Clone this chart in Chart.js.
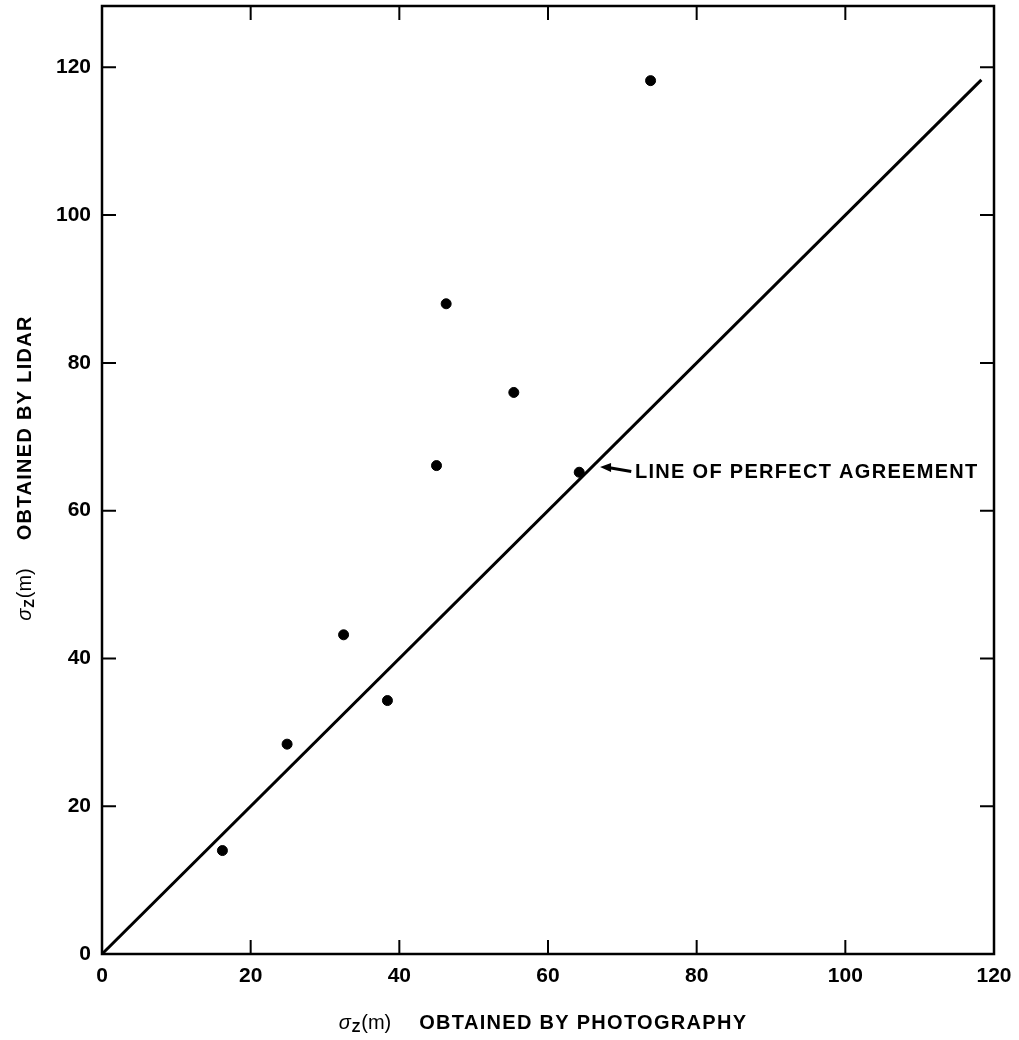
<!DOCTYPE html>
<html lang="en">
<head>
    <meta charset="UTF-8">
    <title>Sigma z: lidar vs photography</title>
    <script src="https://cdn.jsdelivr.net/npm/chart.js"></script>
    <style>
        html, body {
            margin: 0;
            padding: 0;
            background: #fff;
        }
        #wrap {
            width: 1019px;
            height: 1040px;
        }
    </style>
</head>
<body>
<div id="wrap"><canvas id="chart"></canvas></div>
<script>
    // values
    const photoSigma = [16.2, 24.9, 32.5, 38.4, 45.0, 46.3, 55.4, 64.2, 73.8];
    const lidarSigma = [14.0, 28.4, 43.2, 34.3, 66.1, 88.0, 76.0, 65.2, 118.2];
    const agreementX = [0, 118.3];
    const agreementY = [0, 118.3];
    const tickValues = [0, 20, 40, 60, 80, 100, 120];
    const xTitle = 'OBTAINED BY PHOTOGRAPHY';
    const yTitle = 'OBTAINED BY LIDAR';
    const noteText = 'LINE OF PERFECT AGREEMENT';

    const FONT = '"Liberation Sans", Arial, sans-serif';
    const SPACING = '1.3px';

    // one pass for measuring (draw=false) or drawing sigma_Z(m) + title
    function sigmaTitle(ctx, x, y, rest, draw) {
        const x0 = x;
        ctx.textBaseline = 'middle';
        ctx.textAlign = 'left';
        ctx.letterSpacing = '0px';
        ctx.font = 'italic 20px ' + FONT;
        if (draw) ctx.fillText('σ', x, y);
        x += ctx.measureText('σ').width + 1;
        ctx.font = 'bold 14px ' + FONT;
        if (draw) ctx.fillText('Z', x, y + 5);
        x += ctx.measureText('Z').width + 1;
        ctx.font = '20px ' + FONT;
        if (draw) ctx.fillText('(m)', x, y);
        x += ctx.measureText('(m)').width + 28;
        ctx.font = 'bold 20px ' + FONT;
        ctx.letterSpacing = SPACING;
        if (draw) ctx.fillText(rest, x, y);
        x += ctx.measureText(rest).width;
        ctx.letterSpacing = '0px';
        return x - x0;
    }

    const framePlugin = {
        id: 'frame',
        afterDraw(chart) {
            const ctx = chart.ctx;
            const a = chart.chartArea;
            const xs = chart.scales.x;
            const ys = chart.scales.y;
            ctx.save();
            ctx.strokeStyle = '#000';
            ctx.fillStyle = '#000';

            // box
            ctx.lineWidth = 2.5;
            ctx.strokeRect(a.left, a.top, a.right - a.left, a.bottom - a.top);

            // inward ticks on all four sides
            ctx.lineWidth = 2;
            const tl = 14;
            ctx.beginPath();
            tickValues.forEach(v => {
                const px = xs.getPixelForValue(v);
                const py = ys.getPixelForValue(v);
                if (v > 0 && v < 120) {
                    ctx.moveTo(px, a.bottom); ctx.lineTo(px, a.bottom - tl);
                    ctx.moveTo(px, a.top); ctx.lineTo(px, a.top + tl);
                }
                if (v > 0) {
                    ctx.moveTo(a.left, py); ctx.lineTo(a.left + tl, py);
                    ctx.moveTo(a.right, py); ctx.lineTo(a.right - tl, py);
                }
            });
            ctx.stroke();

            // x title
            const xw = sigmaTitle(ctx, 0, 0, xTitle, false);
            sigmaTitle(ctx, 543 - xw / 2, 1023, xTitle, true);

            // y title (rotated)
            const yw = sigmaTitle(ctx, 0, 0, yTitle, false);
            ctx.save();
            ctx.translate(25, 468);
            ctx.rotate(-Math.PI / 2);
            sigmaTitle(ctx, -yw / 2, 0, yTitle, true);
            ctx.restore();

            // annotation arrow + label
            const tipX = xs.getPixelForValue(67.0);
            const tipY = ys.getPixelForValue(65.9);
            const tailX = xs.getPixelForValue(71.2);
            const tailY = ys.getPixelForValue(65.3);
            ctx.lineWidth = 3;
            ctx.beginPath();
            ctx.moveTo(tailX, tailY);
            ctx.lineTo(tipX + 8, tipY + 0.5);
            ctx.stroke();
            ctx.beginPath();
            ctx.moveTo(tipX, tipY);
            ctx.lineTo(tipX + 11, tipY - 4);
            ctx.lineTo(tipX + 11, tipY + 5);
            ctx.closePath();
            ctx.fill();

            ctx.font = 'bold 20px ' + FONT;
            ctx.letterSpacing = SPACING;
            ctx.textAlign = 'left';
            ctx.textBaseline = 'middle';
            ctx.fillText(noteText, xs.getPixelForValue(71.7), ys.getPixelForValue(65.2));
            ctx.restore();
        }
    };

    const points = photoSigma.map((x, i) => ({ x: x, y: lidarSigma[i] }));
    const agreement = agreementX.map((x, i) => ({ x: x, y: agreementY[i] }));

    new Chart(document.getElementById('chart'), {
        type: 'scatter',
        data: {
            datasets: [{
                type: 'line',
                data: agreement,
                borderColor: '#000',
                borderWidth: 3,
                pointRadius: 0,
                fill: false
            }, {
                data: points,
                backgroundColor: '#000',
                borderColor: '#000',
                pointRadius: 5,
                pointHoverRadius: 5
            }]
        },
        options: {
            responsive: true,
            maintainAspectRatio: false,
            animation: false,
            layout: { padding: { left: 0, right: 25, top: 6, bottom: 0 } },
            plugins: {
                legend: { display: false },
                tooltip: { enabled: false }
            },
            scales: {
                x: {
                    type: 'linear',
                    min: 0,
                    max: 120,
                    afterBuildTicks: s => { s.ticks = tickValues.map(v => ({ value: v })); },
                    afterFit: s => {
                        s.height = 86;
                        s.paddingLeft = 0; s.paddingRight = 0;
                        s.paddingTop = 0; s.paddingBottom = 0;
                    },
                    grid: { display: false, drawTicks: false },
                    border: { display: false },
                    ticks: {
                        color: '#000',
                        padding: 10,
                        maxRotation: 0,
                        font: { family: FONT, size: 21, weight: 'bold' }
                    }
                },
                y: {
                    type: 'linear',
                    min: 0,
                    max: 128.3,
                    afterBuildTicks: s => { s.ticks = tickValues.map(v => ({ value: v })); },
                    afterFit: s => {
                        s.width = 102;
                        s.paddingLeft = 0; s.paddingRight = 0;
                        s.paddingTop = 0; s.paddingBottom = 0;
                    },
                    grid: { display: false, drawTicks: false },
                    border: { display: false },
                    ticks: {
                        color: '#000',
                        padding: 11,
                        font: { family: FONT, size: 21, weight: 'bold' }
                    }
                }
            }
        },
        plugins: [framePlugin]
    });
</script>
</body>
</html>
